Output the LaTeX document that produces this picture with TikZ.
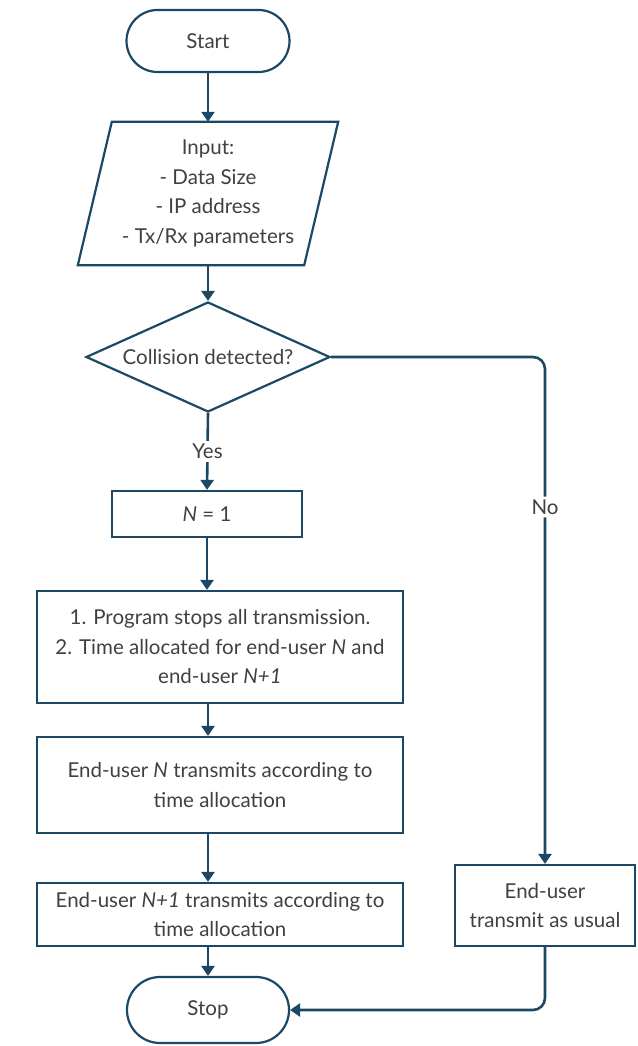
\documentclass[tikz,border=0pt]{standalone}
\usepackage{fontspec}
\setmainfont{Lato}
\usetikzlibrary{arrows.meta,shapes.geometric,shapes.misc,calc}
\definecolor{ln}{RGB}{28,72,102}
\definecolor{tx}{RGB}{64,64,64}
\begin{document}
\begin{tikzpicture}[x=1pt,y=-1pt,
  every node/.style={font=\fontsize{20.5}{29.5}\selectfont, text=tx},
  box/.style={draw=ln, line width=2.2pt, rectangle, inner sep=0pt, align=center},
  term/.style={draw=ln, line width=2.2pt, rounded rectangle, inner sep=0pt},
  arr/.style={draw=ln, line width=2.6pt, -{Triangle[width=13pt,length=10pt]}},
  lbl/.style={fill=white, inner sep=3pt}]
\fill[white] (0,0) rectangle (637,1046);
\useasboundingbox (0,0) rectangle (637,1046);
\node[term, minimum width=163pt, minimum height=62pt] (start) at (208,41) {Start};
\node[inner sep=0pt, minimum width=260pt, minimum height=143pt, align=center] (input) at (208,193.5)
  {Input:\\- Data Size\\- IP address\\- Tx/Rx parameters};
\draw[draw=ln, line width=2.2pt, line join=miter]
  ($(input.north west)+(34,0)$) -- (input.north east) -- ($(input.south east)-(34,0)$) -- (input.south west) -- cycle;
\node[diamond, draw=ln, line width=2.2pt, inner sep=0pt, aspect=2.2, minimum width=244pt, minimum height=110pt] (dec) at (208,357) {Collision detected?};
\node[box, minimum width=190pt, minimum height=46pt] (n1) at (207,514) {\textit{N} = 1};
\node[box, minimum width=366pt, minimum height=112pt] (b2) at (220,647)
  {1. Program stops all transmission.\\2. Time allocated for end-user \textit{N} and\\end-user \textit{N+1}};
\node[box, minimum width=366pt, minimum height=96pt] (b3) at (220,785)
  {End-user \textit{N} transmits according to\\time allocation};
\node[box, minimum width=366pt, minimum height=63pt] (b4) at (220,914.5)
  {End-user \textit{N+1} transmits according to\\time allocation};
\node[box, minimum width=180pt, minimum height=81pt] (b5) at (545,905.5)
  {End-user\\transmit as usual};
\node[term, minimum width=162pt, minimum height=66pt] (stop) at (208,1010) {Stop};
\draw[arr] (start.south) -- (input.north);
\draw[arr] (input.south) -- (dec.north);
\draw[arr] (dec.south) -- node[lbl] {Yes} (n1.north);
\draw[arr, rounded corners=12pt] (dec.east) -| node[lbl, pos=0.648] {No} (b5.north);
\draw[arr] (n1.south) -- (n1.south |- b2.north);
\draw[arr] (b2.south -| start) -- (b3.north -| start);
\draw[arr] (b3.south -| start) -- (b4.north -| start);
\draw[arr] (b4.south -| stop) -- (stop.north);
\draw[arr, rounded corners=12pt] (b5.south) |- (stop.east);
\end{tikzpicture}
\end{document}
